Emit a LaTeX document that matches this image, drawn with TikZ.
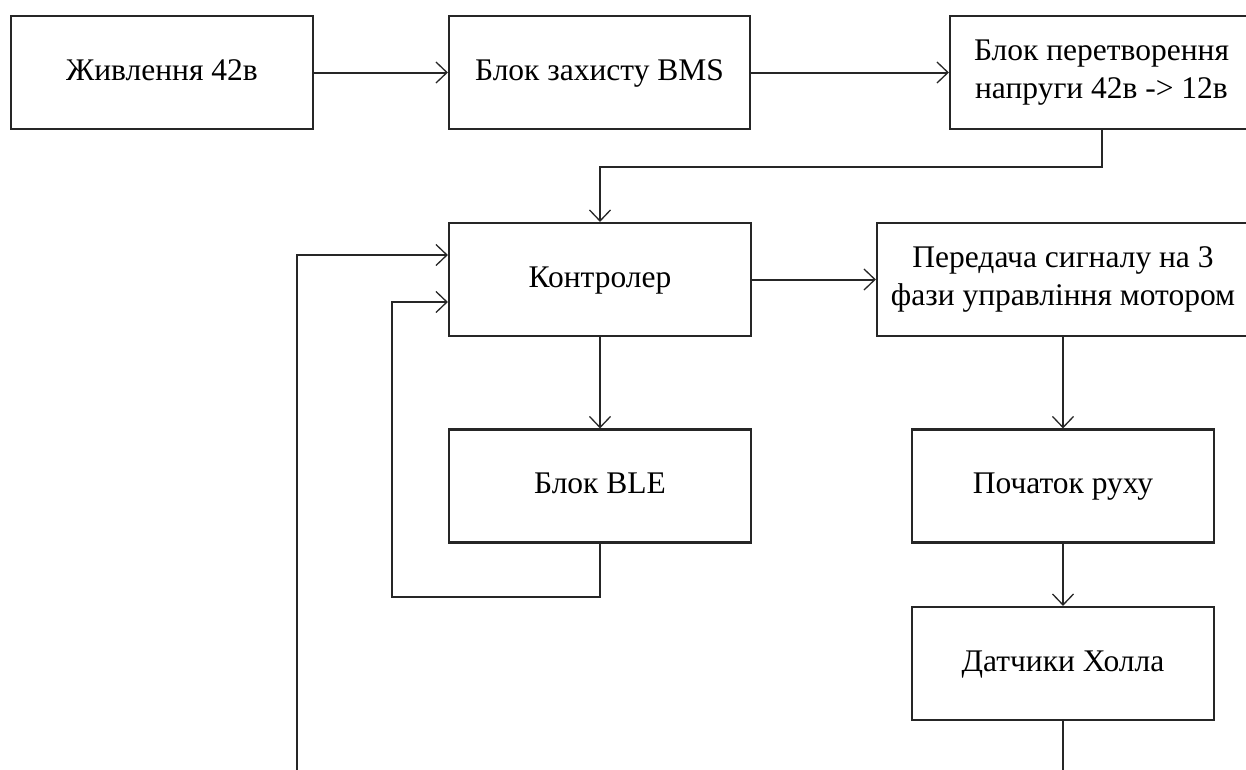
\documentclass[tikz,border=0pt]{standalone}
\usepackage{fontspec}
\setmainfont{Liberation Serif}
\usetikzlibrary{arrows.meta}
\begin{document}
\begin{tikzpicture}[x=1pt,y=-1pt,
  blk/.style={draw=black!85, line width=2.2pt, minimum height=113pt, align=center,
    inner sep=0pt, font=\fontsize{31.5}{38}\selectfont},
  one/.style={text height=22pt, text depth=7pt},
  conn/.style={draw=black!85, line width=2pt},
  arr/.style={conn, -{Straight Barb[length=11pt,width=21pt,line width=1.3pt]}}]
\useasboundingbox (0,0) rectangle (1246,769);
\clip (0,0) rectangle (1246,769);
\fill[white] (0,0) rectangle (1246,769);
\node[blk, one, minimum width=302pt] (b1) at (162,72.5) {Живлення 42в};
\node[blk, one, minimum width=301pt] (b2) at (599.5,72.5) {Блок захисту BMS};
\node[blk, minimum width=303pt] (b3) at (1101.5,72.5) {Блок перетворення\\напруги 42в -> 12в};
\node[blk, one, minimum width=302pt] (ctrl) at (600,279.5) {Контролер};
\node[blk, minimum width=372pt] (pd) at (1063,279.5) {Передача сигналу на 3\\фази управління мотором};
\node[blk, one, minimum width=302pt] (ble) at (600,486) {Блок BLE};
\node[blk, one, minimum width=302pt] (pr) at (1063,486) {Початок руху};
\node[blk, one, minimum width=302pt] (hall) at (1063,663.5) {Датчики Холла};
\coordinate (j1) at (600,167);
\coordinate (j2) at (392,597);
\coordinate (j3) at (392,302);
\coordinate (o1) at (297,780);
\coordinate (o2) at (297,255);
\coordinate (h1) at (1063,780);
\draw[arr] (b1.east) -- (b2.west);
\draw[arr] (b2.east) -- (b3.west);
\draw[arr] (b3.south) |- (j1) -- (ctrl.north);
\draw[arr] (ctrl.east) -- (pd.west);
\draw[arr] (ctrl.south) -- (ble.north);
\draw[arr] (ble.south) |- (j2) -- (j3) -- (ctrl.west |- j3);
\draw[arr] (o1) -- (o2) -- (ctrl.west |- o2);
\draw[arr] (pd.south) -- (pr.north);
\draw[arr] (pr.south) -- (hall.north);
\draw[conn] (hall.south) -- (h1);
\end{tikzpicture}
\end{document}
